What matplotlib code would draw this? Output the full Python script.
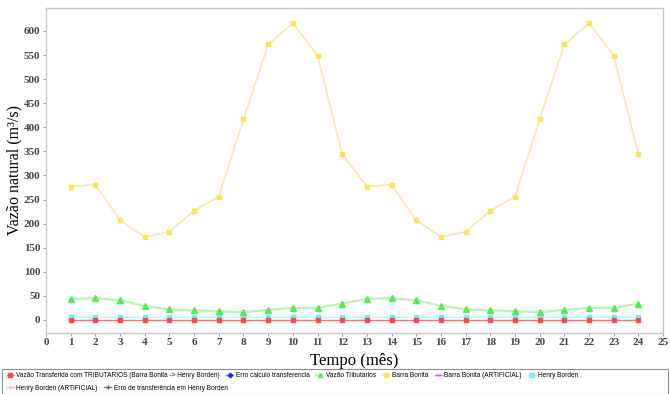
import matplotlib
matplotlib.use("Agg")
import matplotlib.pyplot as plt
from matplotlib.patches import Rectangle

months = list(range(1, 25))
barra_bonita = [277, 281, 207, 172, 183, 227, 256, 417, 572, 616, 549, 344,
                277, 281, 207, 172, 183, 227, 256, 417, 572, 616, 549, 344]
vazao_tributarios = [44, 45, 41, 29, 22, 20, 18, 16, 21, 25, 25, 34,
                     44, 45, 41, 29, 22, 20, 18, 16, 21, 25, 25, 34]
henry_borden = [7] * 24
vazao_transferida = [0] * 24
erro_calculo = []
barra_bonita_art = []
henry_borden_art = []
erro_henry = []

x_ticks = list(range(0, 26))
y_ticks = list(range(0, 601, 50))

serif = ["Liberation Serif", "DejaVu Serif"]
sans = ["Liberation Sans", "DejaVu Sans"]

fig = plt.figure(figsize=(6.70, 3.94), dpi=100)
ax = fig.add_axes([0.0687, 0.155, 0.921, 0.825])

h_red, = ax.plot(months, vazao_transferida, color="#ff7070", lw=1.0, marker="s",
                 ms=3.5, mfc="#ff4848", mec="#ff4848", zorder=5,
                 label="Vazão Transferida com TRIBUTARIOS (Barra Bonita -> Henry Borden)")
h_blue, = ax.plot(months[:len(erro_calculo)], erro_calculo, color="#8080ff", lw=1,
                  marker="D", ms=3, mfc="#2020ff", mec="#2020ff",
                  label="Erro calculo transferencia")
h_green, = ax.plot(months, vazao_tributarios, color="#b8f5b0", lw=1.6, marker="^",
                   ms=3.8, mfc="#58e858", mec="#58e858", zorder=4,
                   label="Vazão Tributarios")
h_yellow, = ax.plot(months, barra_bonita, color="#ffe4b0", lw=1.2, marker="s",
                    ms=3.2, mfc="#ffe450", mec="#ffe450", zorder=4,
                    label="Barra Bonita")
h_mag, = ax.plot(months[:len(barra_bonita_art)], barra_bonita_art, color="#ff80ff",
                 lw=1, marker="_", ms=5, mfc="#ff30ff", mec="#ff30ff",
                 label="Barra Bonita (ARTIFICIAL)")
h_cyan, = ax.plot(months, henry_borden, color="#a0ffff", lw=1.0, marker="s",
                  ms=3.5, mfc="#70ecff", mec="#70ecff", zorder=3,
                  label="Henry Borden")
h_pink, = ax.plot(months[:len(henry_borden_art)], henry_borden_art, color="#ffb8b8",
                  lw=1, marker="|", ms=4, mfc="#ffb8b8", mec="#ffb8b8",
                  label="Henry Borden (ARTIFICIAL)")
h_gray, = ax.plot(months[:len(erro_henry)], erro_henry, color="#808080", lw=1,
                  marker="+", ms=4, mfc="#606060", mec="#606060",
                  label="Erro de transferência em Henry Borden")

ax.set_xlim(0, 25)
ax.set_ylim(-27, 648)
ax.set_xticks(x_ticks)
ax.set_yticks(y_ticks)
for lbl in ax.get_xticklabels() + ax.get_yticklabels():
    lbl.set_fontfamily(serif)
    lbl.set_fontweight("bold")
    lbl.set_fontsize(8)
    lbl.set_color("#444444")
ax.tick_params(axis="both", length=2, width=0.6, color="#888888", pad=2)
for s in ax.spines.values():
    s.set_color("#c8c8c8")
    s.set_linewidth(1)

ax.set_xlabel("Tempo (mês)", fontfamily=serif, fontsize=12, labelpad=4)
ax.set_ylabel("Vazão natural (m³/s)", fontfamily=serif, fontsize=11.5)
ax.yaxis.set_label_coords(-0.039, 0.5)

row1 = [h_red, h_blue, h_green, h_yellow, h_mag, h_cyan]
row2 = [h_pink, h_gray]
leg_kw = dict(frameon=False, prop={"family": sans, "size": 4.7}, handlelength=1.1,
              handletextpad=0.35, columnspacing=1.0, borderpad=0, borderaxespad=0,
              markerscale=0.75)
fig.legend(handles=row1, ncol=6, loc="upper left",
           bbox_to_anchor=(0.010, 0.056), **leg_kw)
fig.legend(handles=row2, ncol=2, loc="upper left",
           bbox_to_anchor=(0.010, 0.024), **leg_kw)
fig.patches.append(Rectangle((0.003, 0.0), 0.994, 0.064, transform=fig.transFigure,
                             fill=False, edgecolor="#909090", lw=0.8))

fig.savefig("out.png", dpi=100)
